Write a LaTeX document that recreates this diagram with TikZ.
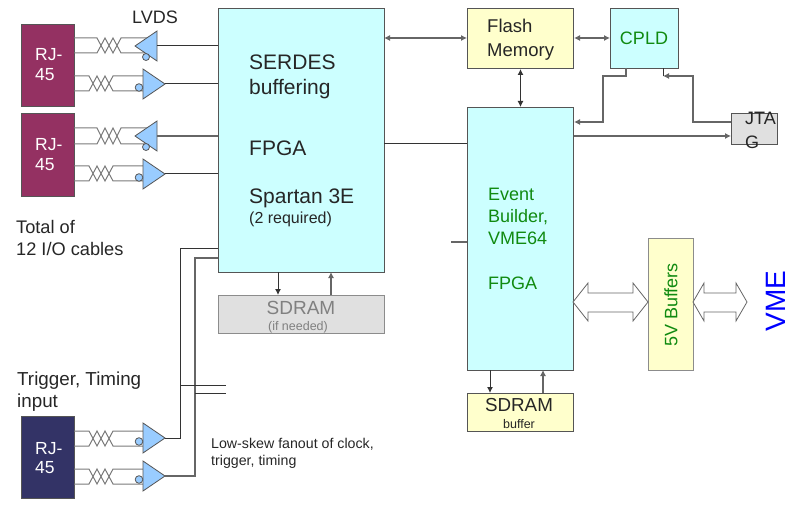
\documentclass[tikz,border=0pt]{standalone}
\usepackage{fontspec}
\setmainfont{Liberation Sans}
\usetikzlibrary{arrows.meta,calc}
\definecolor{rjpurple}{HTML}{943162}
\definecolor{rjnavy}{HTML}{333366}
\definecolor{lcyan}{HTML}{CCFFFF}
\definecolor{lyellow}{HTML}{FFFFCC}
\definecolor{lgray}{HTML}{E0E0E0}
\definecolor{tblue}{HTML}{99CCFF}
\definecolor{edge}{HTML}{555555}
\definecolor{wire}{HTML}{7A7A7A}
\definecolor{dgreen}{HTML}{108A10}
\newcommand{\fs}[1]{\fontsize{#1}{#1}\selectfont}
\tikzset{
  block/.style={draw=edge,line width=1pt,minimum width=0pt,minimum height=0pt,inner sep=0pt,anchor=north west},
  lab/.style={anchor=base west,inner sep=0pt,text=black!85},
  ctr/.style={anchor=base,inner sep=0pt,text=black!85},
  conn/.style={draw=black!80,line width=1pt},
  gconn/.style={draw=black!60,line width=1.1pt},
  arr/.style={-{Latex[length=6pt,width=6pt]}},
  darr/.style={{Latex[length=6pt,width=6pt]}-{Latex[length=6pt,width=6pt]}},
  twire/.style={draw=wire,line width=1pt},
  buf/.style={draw=edge,line width=0.8pt,fill=tblue},
  bigarrow/.style={draw=black!60,line width=0.8pt,fill=white},
}
% \txpair{x start}{y1}{y2}{x box}{x end}
\newcommand{\txpair}[5]{%
  \pgfmathsetmacro{\xa}{#1}%
  \pgfmathsetmacro{\xc}{#1+8}%
  \pgfmathsetmacro{\xe}{#1+16}\pgfmathsetmacro{\xg}{#1+24}%
  \draw[twire] (#4,#2) -- (\xa,#2) -- (\xc,#3) -- (\xe,#2) -- (\xg,#3) -- (#5,#3);
  \draw[twire] (#4,#3) -- (\xa,#3) -- (\xc,#2) -- (\xe,#3) -- (\xg,#2) -- (#5,#2);
}
% left-pointing and right-pointing receivers
\newcommand{\bufL}[2]{%
  \draw[buf] (#1,#2) -- (#1+22,#2-15) -- (#1+22,#2+15) -- cycle;
  \draw[buf] (#1+11,#2+11) circle (3.5);
}
\newcommand{\bufR}[2]{%
  \draw[buf] (#1,#2-15) -- (#1+22,#2) -- (#1,#2+15) -- cycle;
  \draw[buf] (#1-4,#2+3.5) circle (3.8);
}
\begin{document}
\begin{tikzpicture}[x=1pt,y=-1pt]
\useasboundingbox (0,0) rectangle (798,505);
% blocks
\node[block,fill=rjpurple,minimum width=53pt,minimum height=82pt] (rja) at (21,24) {};
\node[block,fill=rjpurple,minimum width=53pt,minimum height=83pt] (rjb) at (21,113) {};
\node[block,fill=rjnavy,minimum width=53pt,minimum height=82pt] (rjc) at (21,416) {};
\node[block,fill=lcyan,minimum width=166pt,minimum height=264pt] (serdes) at (218,8) {};
\node[block,fill=lgray,draw=black!45,minimum width=166pt,minimum height=38pt] (sdramg) at (218,295) {};
\node[block,fill=lyellow,minimum width=106pt,minimum height=60pt] (flash) at (467,8) {};
\node[block,fill=lcyan,minimum width=68pt,minimum height=60pt] (cpld) at (610,8) {};
\node[block,fill=lcyan,minimum width=106pt,minimum height=263pt] (event) at (467,107) {};
\node[block,fill=lgray,minimum width=46pt,minimum height=31pt] (jtag) at (731,113) {};
\node[block,fill=lyellow,draw=black!45,minimum width=45pt,minimum height=132pt] (fivev) at (648,238) {};
\node[block,fill=lyellow,minimum width=106pt,minimum height=38pt] (sdramb) at (467,393) {};
% twisted pairs
\txpair{97}{38}{53}{74}{147}
\txpair{89}{76}{91}{74}{143}
\txpair{97}{128}{144}{74}{147}
\txpair{89}{166}{181}{74}{143}
\txpair{89}{431}{446}{74}{143}
\txpair{89}{469}{484}{74}{143}
% receivers
\bufL{135}{46}
\bufR{143}{84}
\bufL{135}{136}
\bufR{143}{174}
\bufR{143}{438}
\bufR{143}{476}
\coordinate (ba) at (157,46);
\coordinate (bb) at (165,84);
\coordinate (bc) at (157,136);
\coordinate (bd) at (165,174);
\coordinate (be) at (165,438);
\coordinate (bf) at (165,476);
% connectors to SERDES FPGA
\draw[conn] (ba) -- (ba -| serdes.west);
\draw[conn] (bb) -- (bb -| serdes.west);
\draw[gconn] (bc) -- (bc -| serdes.west);
\draw[conn] (bd) -- (bd -| serdes.west);
\coordinate (ta) at (218,249);
\coordinate (tb) at (218,258);
\draw[conn] (be) -- (180,438) -- (180,249) -- (ta);
\draw[gconn] (bf) -- (195,476) -- (195,258) -- (tb);
\coordinate (fa) at (226,385);
\coordinate (fb) at (226,393);
\draw[conn] (180,385) -- (fa);
\draw[conn] (195,393) -- (fb);
% buses
\draw[gconn,darr] (384,38) -- (flash.west |- 0,38);
\draw[gconn,darr] (flash.east |- 0,38) -- (cpld.west |- 0,38);
\draw[conn,darr] (flash.south) -- (event.north);
\draw[conn] (384,144) -- (event.west |- 0,144);
\draw[gconn] (451,242) -- (event.west |- 0,242);
\draw[conn,arr] (278,272) -- (278,295);
\draw[gconn,arr] (331,295) -- (331,272);
\draw[conn,arr] (490,370) -- (490,393);
\draw[gconn,arr] (543,393) -- (543,370);
% CPLD / JTAG
\draw[gconn,arr] (626,68) -- (626,76) -- (603,76) -- (603,122) -- (event.east |- 0,122);
\draw[gconn,arr] (jtag.west |- 0,122) -- (693,122) -- (693,76) -- (663,76);
\draw[conn] (663,76) -- (663,68);
\draw[gconn,arr] (event.east |- 0,136) -- (jtag.west |- 0,136);
% wide arrows
\draw[bigarrow] (573,302) -- (588,283) -- (588,293) -- (633,293) -- (633,283) -- (648,302) -- (633,321) -- (633,312) -- (588,312) -- (588,321) -- cycle;
\draw[bigarrow] (693,302) -- (704,283) -- (704,293) -- (736,293) -- (736,283) -- (747,302) -- (736,321) -- (736,312) -- (704,312) -- (704,321) -- cycle;
% text
\node[lab,font=\fs{18}] (t1) at (132,24) {LVDS};
\node[lab,text=white,font=\fs{17.5}] (t2) at (35,61) {RJ-};
\node[lab,text=white,font=\fs{17.5}] (t3) at (35,81) {45};
\node[lab,text=white,font=\fs{17.5}] (t4) at (35,151) {RJ-};
\node[lab,text=white,font=\fs{17.5}] (t5) at (35,171) {45};
\node[lab,text=white,font=\fs{17.5}] (t6) at (35,454) {RJ-};
\node[lab,text=white,font=\fs{17.5}] (t7) at (35,473) {45};
\node[lab,font=\fs{21}] (t8) at (249,70) {SERDES};
\node[lab,font=\fs{21}] (t9) at (249,95) {buffering};
\node[lab,font=\fs{21}] (t10) at (249,156) {FPGA};
\node[lab,font=\fs{21}] (t11) at (249,204) {Spartan 3E};
\node[lab,font=\fs{16}] (t12) at (249,224) {(2 required)};
\node[lab,font=\fs{18.2}] (t13) at (16,234) {Total of};
\node[lab,font=\fs{18.2}] (t14) at (16,255) {12 I/O cables};
\node[lab,font=\fs{18.8}] (t15) at (17,385) {Trigger, Timing};
\node[lab,font=\fs{18.8}] (t16) at (17,407) {input};
\node[lab,font=\fs{14.2}] (t17) at (211,448) {Low-skew fanout of clock,};
\node[lab,font=\fs{14.2}] (t18) at (211,465) {trigger, timing};
\node[ctr,text=black!50,font=\fs{19}] (t19) at (301,314) {SDRAM};
\node[ctr,text=black!50,font=\fs{12.5}] (t20) at (298,330) {(if needed)};
\node[lab,font=\fs{18.5}] (t21) at (487,33) {Flash};
\node[lab,font=\fs{18.5}] (t22) at (487,57) {Memory};
\node[ctr,text=dgreen,font=\fs{18}] (t23) at (644,45) {CPLD};
\node[lab,font=\fs{18}] (t24) at (745,125) {JTA};
\node[lab,font=\fs{18}] (t25) at (745,149) {G};
\node[lab,text=dgreen,font=\fs{18}] (t26) at (488,201) {Event};
\node[lab,text=dgreen,font=\fs{18}] (t27) at (488,223) {Builder,};
\node[lab,text=dgreen,font=\fs{18}] (t28) at (488,245) {VME64};
\node[lab,text=dgreen,font=\fs{18}] (t29) at (488,289) {FPGA};
\node[rotate=90,inner sep=0pt,text=dgreen,font=\fs{18}] (t30) at (671,305) {5V Buffers};
\node[rotate=90,inner sep=0pt,text=blue,font=\fs{28}] (t31) at (776,301) {VME};
\node[ctr,font=\fs{18.8}] (t32) at (519,411) {SDRAM};
\node[ctr,font=\fs{12.5}] (t33) at (519,428) {buffer};
\end{tikzpicture}
\end{document}
